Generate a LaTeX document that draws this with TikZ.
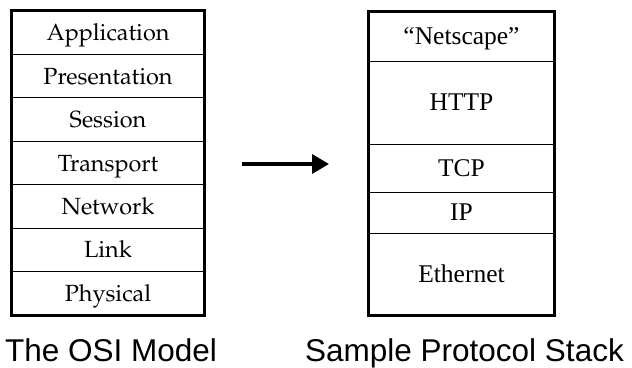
\documentclass[tikz,border=0pt]{standalone}
\usepackage[T1,TU]{fontenc}
\usepackage{fontspec}
\setsansfont{Liberation Sans}
\newfontfamily\stackfont{Liberation Serif}
\newcommand\layerfont{\fontencoding{T1}\fontfamily{ppl}\selectfont}
\usetikzlibrary{arrows.meta}
\tikzset{
  osirow/.style={draw, line width=1pt, rectangle, inner sep=0pt,
    minimum width=192pt, text height=16pt, text depth=0pt,
    font=\layerfont\fontsize{23.4}{28}\selectfont},
  protorow/.style={draw, line width=1pt, rectangle, inner sep=0pt,
    minimum width=185pt, text height=16.5pt, text depth=0pt,
    font=\stackfont\fontsize{25.5}{30}\selectfont},
  frame/.style={draw, line width=2.2pt},
  caption/.style={font=\sffamily\fontsize{31.5}{36}\selectfont, anchor=base, inner sep=0pt},
  bigarrow/.style={line width=3.6pt, -{Triangle[length=17pt 0, width=19pt 0]}}
}
\begin{document}
\begin{tikzpicture}[x=1pt,y=-1pt]
  \useasboundingbox (0,0) rectangle (632,367);

  % OSI layers, seven equal rows
  \node[osirow, minimum height=43.43pt] (app)  at (108,32.7)  {Application};
  \node[osirow, minimum height=43.43pt] (pres) at (108,76.1)  {Presentation};
  \node[osirow, minimum height=43.43pt] (sess) at (108,119.6) {Session};
  \node[osirow, minimum height=43.43pt] (trans) at (108,163.0) {Transport};
  \node[osirow, minimum height=43.43pt] (net)  at (108,206.4) {Network};
  \node[osirow, minimum height=43.43pt] (link) at (108,249.9) {Link};
  \node[osirow, minimum height=43.43pt] (phys) at (108,293.3) {Physical};
  \draw[frame] (app.north west) rectangle (phys.south east);

  % sample protocol stack
  \node[protorow, minimum height=49pt] (ns)   at (461.5,36.5)  {“Netscape”};
  \node[protorow, minimum height=83pt] (http) at (461.5,102.5) {HTTP};
  \node[protorow, minimum height=48pt] (tcp)  at (461.5,168)   {TCP};
  \node[protorow, minimum height=41pt] (ip)   at (461.5,212.5) {IP};
  \node[protorow, minimum height=82pt] (eth)  at (461.5,274)   {Ethernet};
  \draw[frame] (ns.north west) rectangle (eth.south east);

  % mapping arrow
  \coordinate (arrowtail) at (242,164);
  \coordinate (arrowtip)  at (329,164);
  \draw[bigarrow] (arrowtail) -- (arrowtip);

  % captions
  \node[caption] (osicap)   at (111,361)   {The OSI Model};
  \node[caption] (stackcap) at (464.5,361) {Sample Protocol Stack};
\end{tikzpicture}
\end{document}
